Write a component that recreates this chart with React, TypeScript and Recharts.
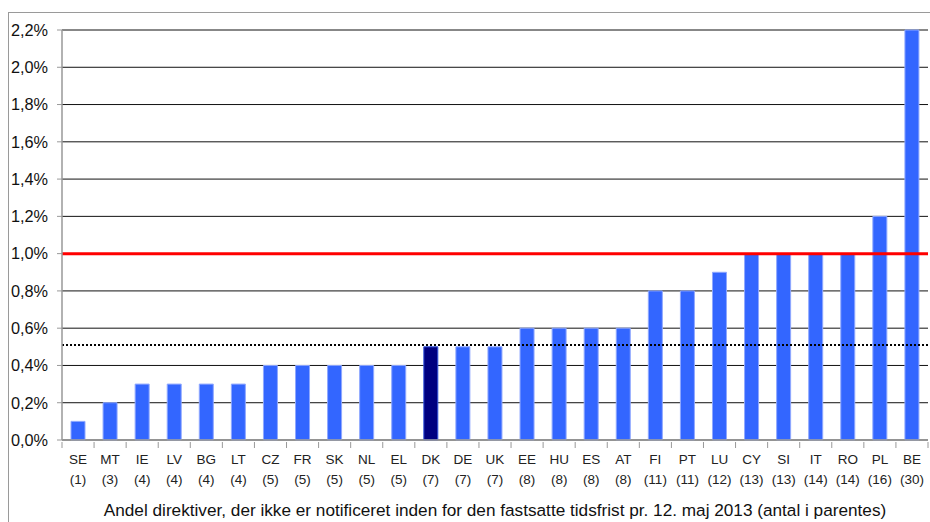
import React from "react";
import {
  BarChart,
  Bar,
  XAxis,
  YAxis,
  CartesianGrid,
  ReferenceLine,
  Cell,
} from "recharts";

const countries = ["SE", "MT", "IE", "LV", "BG", "LT", "CZ", "FR", "SK", "NL", "EL", "DK", "DE", "UK", "EE", "HU", "ES", "AT", "FI", "PT", "LU", "CY", "SI", "IT", "RO", "PL", "BE"];
const counts = [1, 3, 4, 4, 4, 4, 5, 5, 5, 5, 5, 7, 7, 7, 8, 8, 8, 8, 11, 11, 12, 13, 13, 14, 14, 16, 30];
const shares = [0.1, 0.2, 0.3, 0.3, 0.3, 0.3, 0.4, 0.4, 0.4, 0.4, 0.4, 0.5, 0.5, 0.5, 0.6, 0.6, 0.6, 0.6, 0.8, 0.8, 0.9, 1.0, 1.0, 1.0, 1.0, 1.2, 2.2];
const yTicks = [0, 0.2, 0.4, 0.6, 0.8, 1.0, 1.2, 1.4, 1.6, 1.8, 2.0, 2.2];
const targetLine = 1.0;
const averageLine = 0.51;
const highlight = "DK";
const caption = "Andel direktiver, der ikke er notificeret inden for den fastsatte tidsfrist pr. 12. maj 2013 (antal i parentes)";

const data = countries.map((c, i) => ({ name: c, count: counts[i], value: shares[i] }));

const FONT = "'Liberation Sans', Arial, sans-serif";

const CountryTick = (props: any) => {
  const { x, y, payload, index } = props;
  const half = payload && typeof payload.offset === "number" ? payload.offset : 0;
  const isLast = index === countries.length - 1;
  return (
    <g>
      {half > 0 && (
        <line x1={x - half} x2={x - half} y1={y} y2={y + 6} stroke="#999" strokeWidth={1} />
      )}
      {half > 0 && isLast && (
        <line x1={x + half} x2={x + half} y1={y} y2={y + 6} stroke="#999" strokeWidth={1} />
      )}
      <text x={x} y={y + 22} textAnchor="middle" fontSize={13.5} fill="#222" fontFamily={FONT}>
        {payload.value}
      </text>
      <text x={x} y={y + 42} textAnchor="middle" fontSize={13.5} fill="#222" fontFamily={FONT}>
        ({counts[index]})
      </text>
    </g>
  );
};

const fmt = (v: number) => v.toFixed(1).replace(".", ",") + "%";

export default function App() {
  return (
    <div style={{ position: "absolute", left: 0, top: 0, width: 930, height: 522, overflow: "hidden", background: "#fff" }}>
      <div
        style={{
          position: "absolute",
          left: 8,
          top: 12,
          width: 940,
          height: 530,
          borderLeft: "1.5px solid #9a9a9a",
          borderTop: "1.5px solid #9a9a9a",
        }}
      />
      <div style={{ position: "absolute", left: 0, top: 0 }}>
        <BarChart
          width={930}
          height={522}
          data={data}
          margin={{ top: 30, right: 2, left: 12, bottom: 0 }}
          barSize={14}
        >
          <CartesianGrid horizontal vertical={false} stroke="#111" strokeWidth={1} />
          <XAxis
            dataKey="name"
            height={82}
            interval={0}
            tickLine={false}
            tickSize={0}
            axisLine={{ stroke: "#999", strokeWidth: 1.5 }}
            tick={<CountryTick />}
            label={{
              value: caption,
              position: "insideBottom",
              offset: 6,
              fontSize: 17.2,
              fill: "#111",
              fontFamily: FONT,
            }}
          />
          <YAxis
            domain={[0, 2.2]}
            ticks={yTicks}
            interval={0}
            width={50}
            tickFormatter={fmt}
            tickSize={5}
            tickMargin={9}
            axisLine={{ stroke: "#999", strokeWidth: 1.5 }}
            tickLine={{ stroke: "#999" }}
            tick={{ fontSize: 16.3, fill: "#111", fontFamily: FONT }}
          />
          <Bar dataKey="value" isAnimationActive={false} stroke="#8fa8ff" strokeWidth={1}>
            {data.map((d) => (
              <Cell
                key={d.name}
                fill={d.name === highlight ? "#000080" : "#3366ff"}
                stroke={d.name === highlight ? "#3355dd" : "#8fa8ff"}
              />
            ))}
          </Bar>
          <ReferenceLine y={targetLine} stroke="#ff0000" strokeWidth={3} />
          <ReferenceLine y={averageLine} stroke="#000" strokeWidth={2} strokeDasharray="2 2" />
        </BarChart>
      </div>
    </div>
  );
}
